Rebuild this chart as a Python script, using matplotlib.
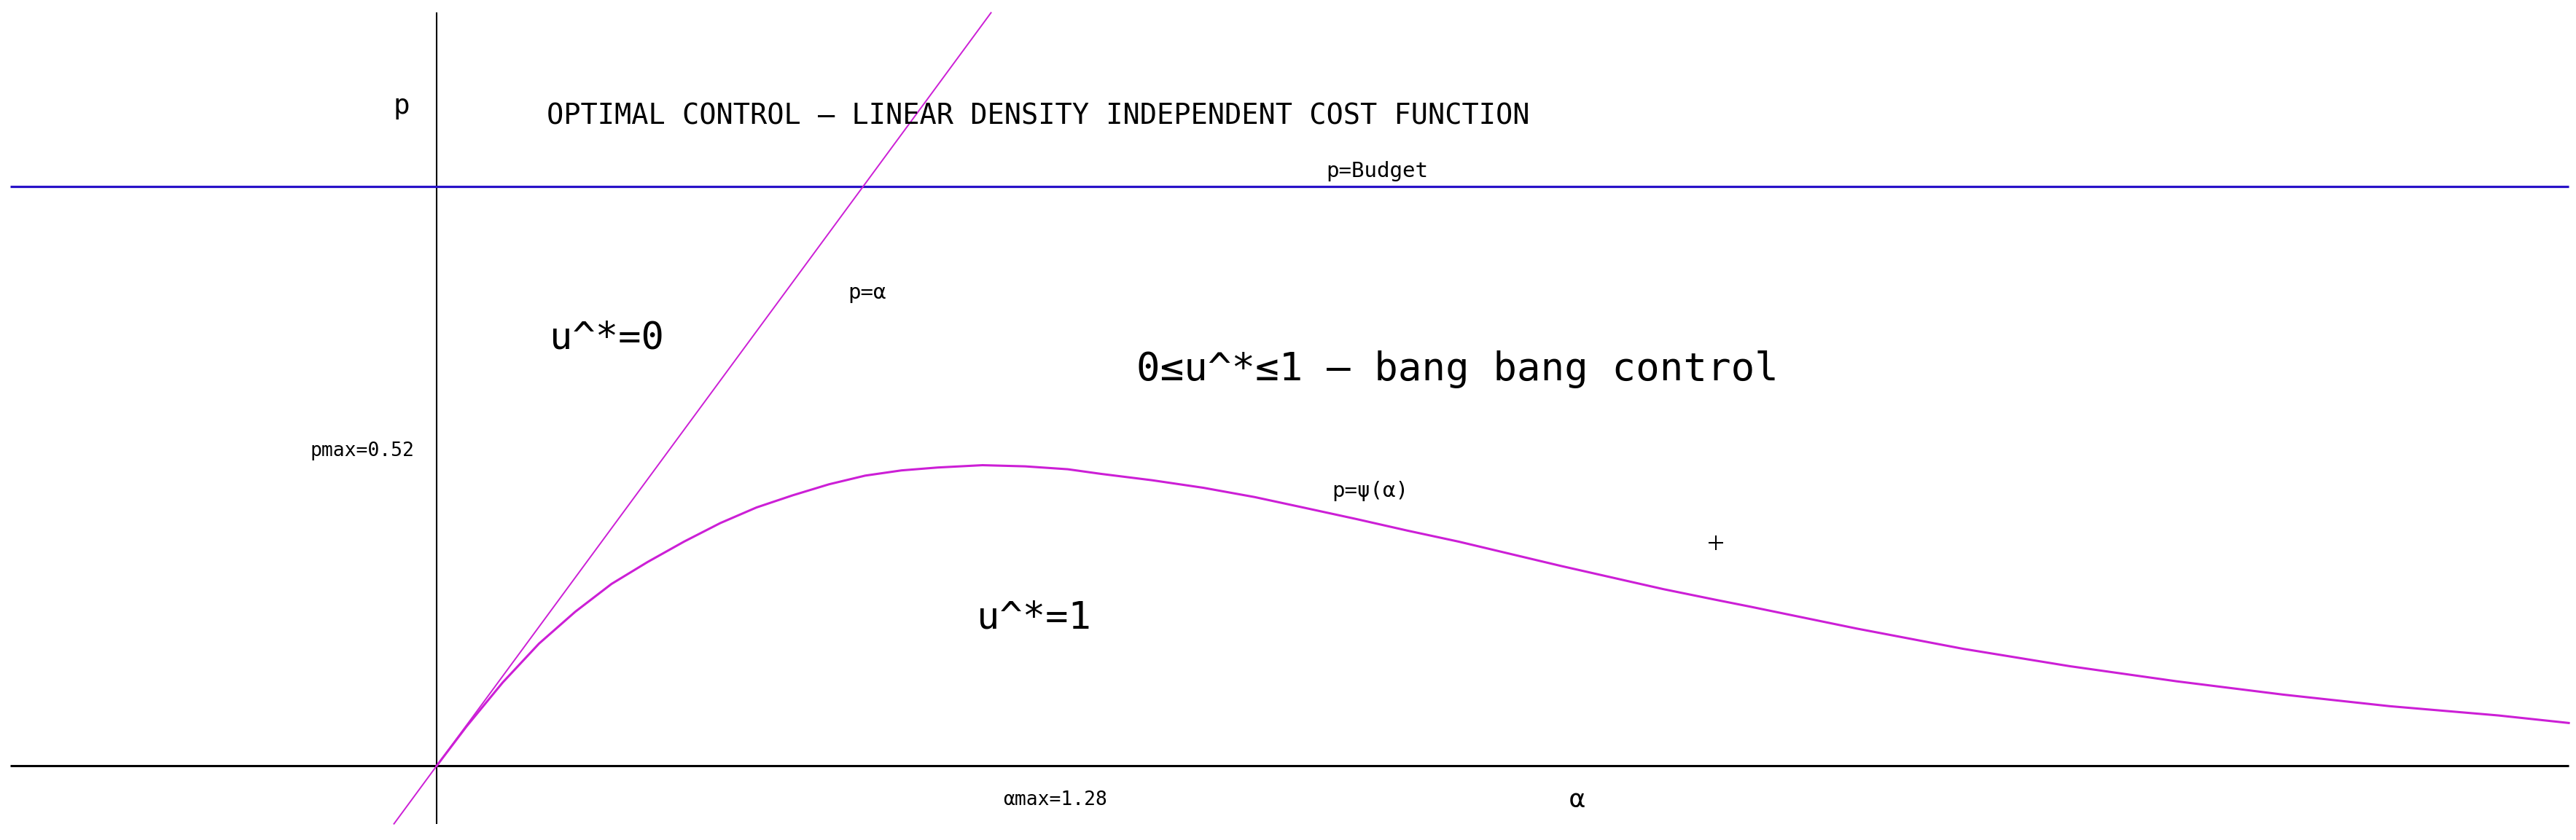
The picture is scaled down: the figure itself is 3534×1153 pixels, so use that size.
import matplotlib
matplotlib.use("Agg")
import matplotlib.pyplot as plt

# ---- data ----
alpha_psi = [0.0, 0.07, 0.155, 0.24, 0.325, 0.41, 0.495, 0.58, 0.665, 0.75, 0.835,
             0.92, 1.005, 1.09, 1.175, 1.28, 1.38, 1.48, 1.558, 1.678, 1.798,
             1.918, 2.038, 2.157, 2.277, 2.397, 2.517, 2.637, 2.757, 2.877, 2.997,
             3.079, 3.33, 3.58, 3.83, 4.08, 4.33, 4.58, 4.835, 5.0]
psi_vals = [0.0, 0.068, 0.144, 0.211, 0.266, 0.314, 0.352, 0.387, 0.419, 0.446, 0.467,
            0.486, 0.501, 0.510, 0.515, 0.519, 0.517, 0.512, 0.504, 0.493, 0.480,
            0.464, 0.445, 0.426, 0.406, 0.387, 0.366, 0.345, 0.325, 0.305, 0.287,
            0.275, 0.237, 0.202, 0.172, 0.146, 0.123, 0.103, 0.087, 0.074]
line_alpha = [-0.1, 1.3]          # p = alpha
budget = 1.0
budget_alpha = [-1.0, 5.0]
x_axis = [-1.0, 5.0]
y_axis = [-0.1, 1.3]
alpha_max, p_max = 1.28, 0.52
cross_pt = (3.0, 0.385)

MAG = '#cc1fd6'
BLUE = '#2812c8'
FONT = 'DejaVu Sans Mono'

fig = plt.figure(figsize=(35.34, 11.53), dpi=100)
ax = fig.add_axes([0, 0, 1, 1])
ax.set_xlim(-1.024, 5.017)
ax.set_ylim(-0.128, 1.322)
ax.axis('off')

# axes
ax.plot(x_axis, [0, 0], color='black', lw=2.2, solid_capstyle='butt')
ax.plot([0, 0], y_axis, color='black', lw=1.5, solid_capstyle='butt')
# budget line
ax.plot(budget_alpha, [budget, budget], color=BLUE, lw=2.3, solid_capstyle='butt')
# p = alpha
ax.plot(line_alpha, line_alpha, color=MAG, lw=1.4)
# psi curve
ax.plot(alpha_psi, psi_vals, color=MAG, lw=2.2, solid_joinstyle='round')
# + marker
ax.plot([cross_pt[0]], [cross_pt[1]], marker='+', color='black', ms=14, mew=1.5)

def T(x, y, s, size, ha='left', va='baseline'):
    ax.text(x, y, s, fontsize=size, family=[FONT, 'DejaVu Sans'], ha=ha, va=va, color='black')

T(-0.082, 1.138, 'p', 27, ha='center', va='center')
T(0.258, 1.108, 'OPTIMAL CONTROL – LINEAR DENSITY INDEPENDENT COST FUNCTION', 27.8)
T(2.085, 1.016, 'p=Budget', 21)
T(0.965, 0.817, 'p=α', 21, va='center')
T(0.265, 0.720, 'u^*=0', 37.5)
T(1.641, 0.665, '0≤u^*≤1 – bang bang control', 39)
T(1.267, 0.237, 'u^*=1', 37.5)
T(2.099, 0.474, 'p=ψ(α)', 21, va='center')
T(-0.297, 0.544, 'pmax=%.2f' % p_max, 19, va='center')
T(1.328, -0.059, 'αmax=%.2f' % alpha_max, 19, va='center')
T(2.674, -0.059, 'α', 26, ha='center', va='center')

fig.savefig('out.png', dpi=100, facecolor='white')
